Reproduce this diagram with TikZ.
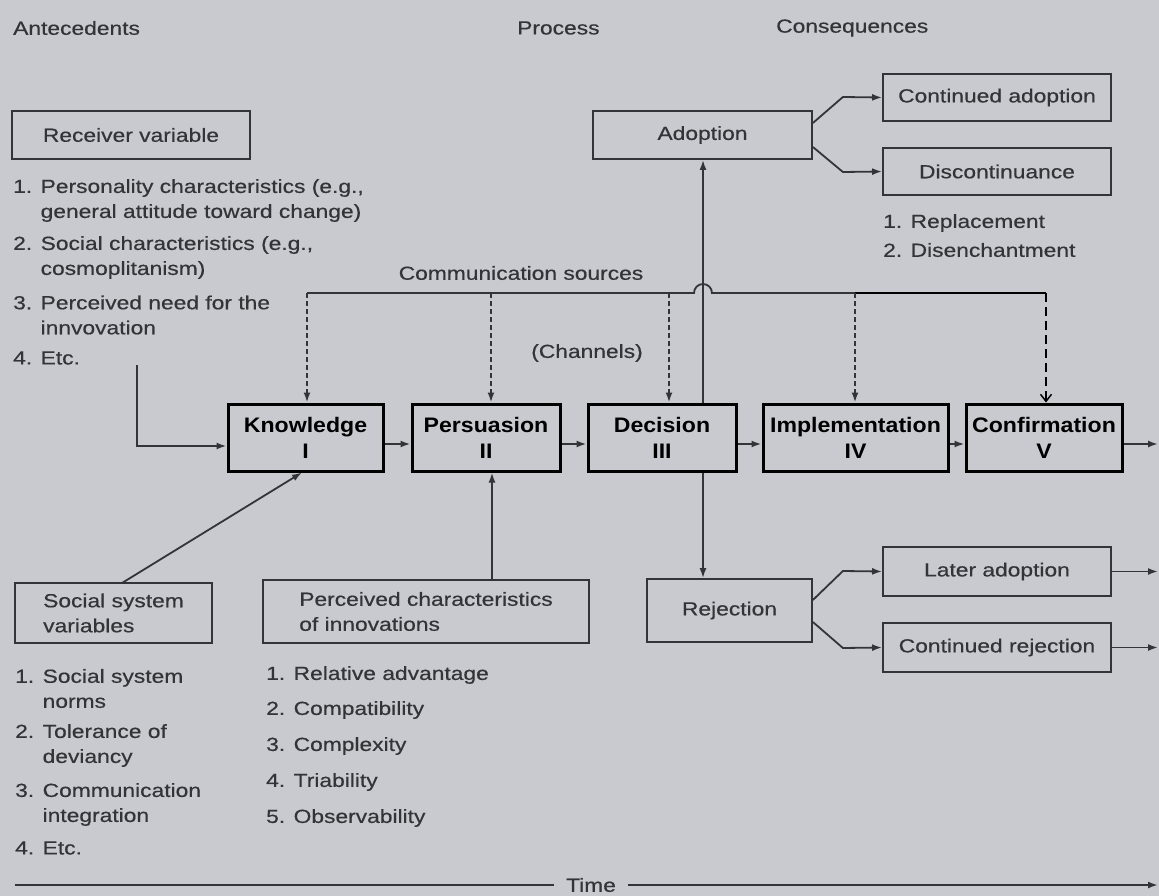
\documentclass[tikz,border=0pt]{standalone}
\usepackage{fontspec}
\setmainfont{Liberation Sans}[FakeStretch=1.2, FakeBold=0.5]
\newfontfamily\stagefont{Liberation Sans}[FakeStretch=1.1]
\usetikzlibrary{arrows.meta}
\definecolor{paper}{RGB}{201,202,208}
\definecolor{ink}{RGB}{52,52,56}

\begin{document}
\begin{tikzpicture}[x=1pt,y=-1pt,
  every node/.style={font=\fontsize{19}{25}\selectfont, text=ink},
  plainbox/.style={draw=ink, line width=1.8pt, inner sep=0pt, align=center},
  stagebox/.style={draw=black, line width=3pt, inner sep=0pt, align=center,
    minimum height=67pt, text=black,
    font=\stagefont\bfseries\fontsize{21}{26}\selectfont},
  lbl/.style={anchor=west, align=left, inner sep=0pt},
  link/.style={draw=ink, line width=1.8pt},
  tip/.style={-{Latex[length=10pt,width=7pt]}},
  channel/.style={draw=ink, line width=1.8pt, dash pattern=on 5pt off 3pt},
  lastchannel/.style={draw=black, line width=1.5pt, dash pattern=on 9pt off 5pt,
    -{Straight Barb[length=7pt,width=11pt]}}
]
% paper
\fill[paper] (0,0) rectangle (1159,896);
\useasboundingbox (0,0) rectangle (1159,896);

% column headings
\node[lbl] (hant) at (13,28) {Antecedents};
\node[lbl] (hproc) at (517,28) {Process};
\node[lbl] (hcons) at (776,28) {Consequences};

% receiver variables
\node[plainbox, minimum width=238pt, minimum height=48pt] (recv) at (131,135) {Receiver variable};
\node[lbl] (r1) at (13,200.5) {1. Personality characteristics (e.g.,\\\hphantom{1. }general attitude toward change)};
\node[lbl] (r2) at (13,257.5) {2. Social characteristics (e.g.,\\\hphantom{2. }cosmoplitanism)};
\node[lbl] (r3) at (13,315) {3. Perceived need for the\\\hphantom{3. }innvovation};
\node[lbl] (r4) at (13,358) {4. Etc.};

% the five stages
\node[stagebox, minimum width=155pt] (K) at (305.5,437.5) {Knowledge\\I};
\node[stagebox, minimum width=148pt] (P) at (486,437.5) {Persuasion\\II};
\node[stagebox, minimum width=148pt] (D) at (662,437.5) {Decision\\III};
\node[stagebox, minimum width=185pt] (I) at (855.5,437.5) {Implementation\\IV};
\node[stagebox, minimum width=156pt] (C) at (1044,437.5) {Confirmation\\V};

% communication channels
\node (comm) at (521,273) {Communication sources};
\node (chan) at (587,353) {(Channels)};
\coordinate (cs0) at (307,293);
\coordinate (cs1) at (491,293);
\coordinate (cs2) at (669,293);
\coordinate (hop) at (694,293);
\coordinate (cs3) at (855,293);
\coordinate (cs4) at (1046,293);
\draw[link] (cs0) -- (hop) arc[start angle=180, end angle=0, radius=9pt] -- (cs3);
\draw[draw=black, line width=1.8pt] (cs3) -- (cs4);
\draw[channel, tip] (cs0) -- (cs0 |- K.north);
\draw[channel, tip] (cs1) -- (cs1 |- P.north);
\draw[channel, tip] (cs2) -- (cs2 |- D.north);
\draw[channel, tip] (cs3) -- (cs3 |- I.north);
\draw[lastchannel] (cs4) -- (cs4 |- C.north);

% consequences: adoption
\node[plainbox, minimum width=219pt, minimum height=48pt] (adopt) at (702.5,135) {Adoption};
\node[plainbox, minimum width=228pt, minimum height=47pt] (cadopt) at (997,97.5) {Continued adoption};
\node[plainbox, minimum width=228pt, minimum height=47pt] (disc) at (997,171.5) {Discontinuance};
\node[lbl] (d1) at (883,223) {1. Replacement};
\node[lbl] (d2) at (883,250) {2. Disenchantment};

% consequences: rejection
\node[plainbox, minimum width=165pt, minimum height=63pt] (rej) at (729.5,610.5) {Rejection};
\node[plainbox, minimum width=228pt, minimum height=49pt] (later) at (997,571.5) {Later adoption};
\node[plainbox, minimum width=228pt, minimum height=49pt] (crej) at (997,647.5) {Continued rejection};

% social system variables
\node[plainbox, minimum width=197pt, minimum height=60pt, align=left] (social) at (113.5,613) {Social system\\variables};
\node[lbl] (s1) at (15,688.5) {1. Social system\\\hphantom{1. }norms};
\node[lbl] (s2) at (15,745.5) {2. Tolerance of\\\hphantom{2. }deviancy};
\node[lbl] (s3) at (15,804.5) {3. Communication\\\hphantom{3. }integration};
\node[lbl] (s4) at (15,848) {4. Etc.};

% perceived characteristics
\node[plainbox, minimum width=326pt, minimum height=63pt, align=left] (perc) at (426,611.5) {Perceived characteristics\\of innovations};
\node[lbl] (p1) at (266,675) {1. Relative advantage};
\node[lbl] (p2) at (266,710) {2. Compatibility};
\node[lbl] (p3) at (266,746) {3. Complexity};
\node[lbl] (p4) at (266,782) {4. Triability};
\node[lbl] (p5) at (266,818) {5. Observability};

% flow between stages
\coordinate (rv) at (137,365);
\draw[link, tip] (rv) |- ([yshift=-8.5pt]K.west);
\draw[link, tip] ([yshift=-6.5pt]K.east) -- ([yshift=-6.5pt]P.west);
\draw[link, tip] ([yshift=-6.5pt]P.east) -- ([yshift=-6.5pt]D.west);
\draw[link, tip] ([yshift=-6.5pt]D.east) -- ([yshift=-6.5pt]I.west);
\draw[link, tip] ([yshift=-6.5pt]I.east) -- ([yshift=-6.5pt]C.west);
\coordinate (edge) at (1158,0);
\coordinate (cout) at ([yshift=-6.5pt]C.east);
\draw[link, tip] (cout) -- (cout -| edge);

% antecedent influences
\coordinate (sn) at (122,583);
\draw[link, tip] (sn) -- ([xshift=-3.5pt]K.south);
\coordinate (pv) at (492,0);
\draw[link, tip] (pv |- perc.north) -- (pv |- P.south);

% decision outcomes
\coordinate (dv) at (703,0);
\draw[link, tip] (dv |- D.north) -- (dv |- adopt.south);
\draw[link, tip] (dv |- D.south) -- (dv |- rej.north);
\draw[link, tip] ([yshift=12pt]adopt.east) -- ++(30,-26) -- (cadopt.west);
\draw[link, tip] ([yshift=-12pt]adopt.east) -- ++(30,25) -- (disc.west);
\draw[link, tip] ([yshift=10.5pt]rej.east) -- ++(30,-29) -- (later.west);
\draw[link, tip] ([yshift=-11.5pt]rej.east) -- ++(30,26) -- (crej.west);
\draw[link, tip] (later.east) -- (later.east -| edge);
\draw[link, tip] (crej.east) -- (crej.east -| edge);

% time axis
\node[inner xsep=12pt] (time) at (591,885) {Time};
\coordinate (tl) at (15,885);
\coordinate (tr) at (1158,885);
\draw[link] (tl) -- (time.west);
\draw[link, tip] (time.east) -- (tr);
\end{tikzpicture}
\end{document}
